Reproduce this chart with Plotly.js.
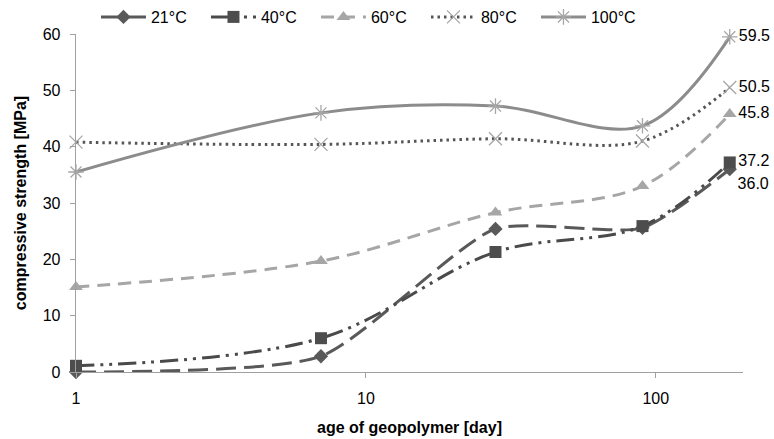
<!DOCTYPE html>
<html>
<head>
<meta charset="utf-8">
<script src="https://cdn.plot.ly/plotly-3.0.1.min.js"></script>
<style>
  html, body { margin: 0; padding: 0; background: #fff; }
  #chart { width: 774px; height: 439px; }
</style>
</head>
<body>
<div id="chart"></div>
<script>
// ---- data ----
const days = [1, 7, 28, 90, 180];
const seriesNames = ["21°C", "40°C", "60°C", "80°C", "100°C"];
const s21  = [0.0, 2.8, 25.4, 25.6, 36.0];
const s40  = [1.1, 6.0, 21.3, 25.9, 37.2];
const s60  = [15.1, 19.7, 28.3, 33.0, 45.8];
const s80  = [40.8, 40.4, 41.4, 41.0, 50.5];
const s100 = [35.5, 46.0, 47.2, 43.7, 59.5];
const xTickVals = [1, 10, 100];
const xTickText = ["1", "10", "100"];
const yTickVals = [0, 10, 20, 30, 40, 50, 60];

// ---- styles ----
const styles = [
  {color: "#595959", dash: "20px,8px", symbol: "diamond", msize: 11, mcolor: "#595959", tpos: "bottom right", smooth: 0.6},
  {color: "#4a4a4a", dash: "18px,6px,3px,6px,3px,6px", symbol: "square", msize: 12, mcolor: "#4d4d4d", tpos: "middle right", smooth: 1},
  {color: "#a6a6a6", dash: "13px,8px", symbol: "triangle-up", msize: 12, mcolor: "#a6a6a6", tpos: "middle right", smooth: 1},
  {color: "#555555", dash: "2.5px,4px", symbol: "x-thin-open", msize: 13, mcolor: "#a6a6a6", tpos: "middle right", smooth: 1},
  {color: "#8c8c8c", dash: "solid", symbol: "asterisk-open", msize: 13, mcolor: "#a6a6a6", tpos: "middle right", smooth: 1}
];
const allSeries = [s21, s40, s60, s80, s100];

const traces = allSeries.map((vals, k) => {
  const st = styles[k];
  const last = vals.length - 1;
  const isOpen = st.symbol.indexOf("open") >= 0;
  return {
    type: "scatter",
    mode: "lines+markers+text",
    name: seriesNames[k],
    x: days,
    y: vals,
    text: vals.map((v, i) => i === last ? v.toFixed(1) : ""),
    textposition: st.tpos,
    textfont: {family: "Liberation Sans, Arial, sans-serif", size: 16, color: "#000"},
    line: {color: st.color, width: 3, dash: st.dash, shape: "spline", smoothing: st.smooth},
    marker: isOpen
      ? {symbol: st.symbol, size: st.msize, color: st.mcolor, line: {color: st.mcolor, width: 1.3}}
      : {symbol: st.symbol, size: st.msize, color: st.mcolor, line: {width: 0}},
    cliponaxis: false,
    hoverinfo: "x+y+name"
  };
});

const layout = {
  width: 774,
  height: 439,
  margin: {l: 76, r: 31, t: 34, b: 67},
  paper_bgcolor: "#fff",
  plot_bgcolor: "#fff",
  font: {family: "Liberation Sans, Arial, sans-serif", size: 16, color: "#000"},
  showlegend: true,
  legend: {
    orientation: "h",
    xref: "container",
    yref: "container",
    x: 0.124, xanchor: "left",
    y: 1 - 17 / 439, yanchor: "middle",
    itemwidth: 45,
    entrywidth: 50,
    entrywidthmode: "pixels",
    font: {size: 16},
    bgcolor: "rgba(0,0,0,0)"
  },
  xaxis: {
    type: "log",
    range: [0, Math.log10(200)],
    tickvals: xTickVals,
    ticktext: xTickText,
    ticks: "outside",
    ticklen: 5,
    tickcolor: "#a0a0a0",
    showline: true,
    linecolor: "#a0a0a0",
    linewidth: 1.3,
    showgrid: false,
    zeroline: false,
    ticklabelstandoff: 6,
    automargin: false,
    title: {text: "<b>age of geopolymer [day]</b>", font: {size: 16}, standoff: 16}
  },
  yaxis: {
    range: [0, 60],
    tickvals: yTickVals,
    ticks: "outside",
    ticklen: 5,
    tickcolor: "#a0a0a0",
    showline: true,
    linecolor: "#a0a0a0",
    linewidth: 1.3,
    showgrid: false,
    zeroline: false,
    ticklabelstandoff: 6,
    automargin: false,
    title: {text: "<b>compressive strength [MPa]</b>", font: {size: 16}, standoff: 12}
  }
};

Plotly.newPlot("chart", traces, layout, {staticPlot: true, displayModeBar: false});
</script>
</body>
</html>
